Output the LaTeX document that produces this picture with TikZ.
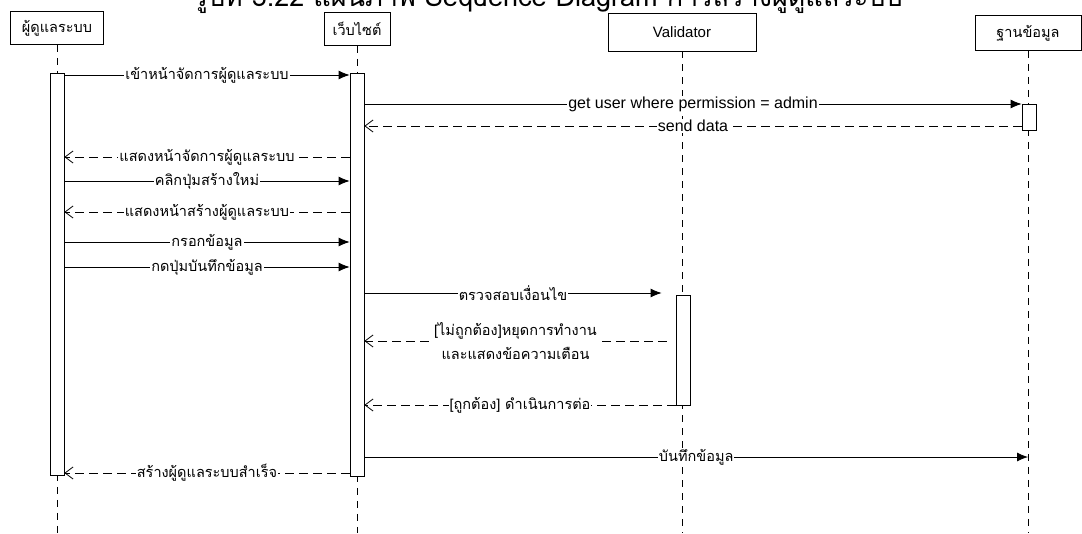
\documentclass[tikz,border=0pt]{standalone}
\usepackage{fontspec}
\setmainfont{Liberation Sans}
\newfontfamily\thaifont[Script=Thai]{Loma}
\usetikzlibrary{arrows.meta, positioning}

\tikzset{
    actor/.style={draw, line width=0.9pt, minimum height=33pt, inner sep=2pt, font=\thaifont\fontsize{14.5}{16}\selectfont},
    bar/.style={draw, line width=0.8pt, fill=white, minimum width=14pt, inner sep=0pt},
    life/.style={line width=0.7pt, dash pattern=on 7pt off 6pt},
    call/.style={line width=0.8pt, -{Latex[length=11pt, width=9pt]}},
    reply/.style={line width=0.8pt, dash pattern=on 9pt off 5pt, -{Straight Barb[length=8pt, width=12pt]}},
    msg/.style={fill=white, inner sep=1pt, font=\thaifont\fontsize{14.5}{16}\selectfont},
    msglat/.style={fill=white, inner sep=1pt, font=\fontsize{16}{18}\selectfont}
}

\begin{document}
\begin{tikzpicture}[x=1pt, y=-1pt]
                        \useasboundingbox (0,0) rectangle (1082,533);
                        % Title, cut off by the top of the page:
                        \node[anchor=base, inner sep=0pt, font=\thaifont\fontsize{27}{30}\selectfont] (title) at (548,6)
                            {รูปที่ 3.22 แผนภาพ Sequence Diagram การสร้างผู้ดูแลระบบ};

                        % Lifelines:
                        \node[actor, minimum width=93pt] (admin) at (57,28) {ผู้ดูแลระบบ};
                        \node[actor, minimum width=66pt] (web) at (357,29) {เว็บไซต์};
                        \node[actor, minimum width=148pt, minimum height=38pt, font=\fontsize{15}{17}\selectfont] (valid) at (682,32) {Validator};
                        \node[actor, minimum width=106pt, minimum height=35pt] (db) at (1028,33) {ฐานข้อมูล};
                        \coordinate (adminend) at (57,533);
                        \coordinate (webend) at (357,533);
                        \coordinate (validend) at (682,533);
                        \coordinate (dbend) at (1028,533);
                        \draw[life] (admin) -- (adminend);
                        \draw[life] (web) -- (webend);
                        \draw[life] (valid) -- (validend);
                        \draw[life] (db) -- (dbend);

                        % Activations:
                        \node[bar, minimum height=402pt, anchor=north] (adminbar) at (57,73) {};
                        \node[bar, minimum height=403pt, anchor=north] (webbar) at (357,73) {};
                        \node[bar, minimum height=26pt, anchor=north] (dbbar) at (1029,104) {};
                        \node[bar, minimum height=110pt, anchor=north] (validbar) at (683,295) {};

                        % Messages:
                        \draw[call] (adminbar.east |- 0,75) -- node[msg] (m1) {เข้าหน้าจัดการผู้ดูแลระบบ} (webbar.west |- 0,75);
                        \draw[call] (webbar.east |- 0,104) -- node[msglat] (m2) {get user where permission = admin} (dbbar.west |- 0,104);
                        \draw[reply] (dbbar.west |- 0,126) -- node[msglat] (m3) {send data} (webbar.east |- 0,126);
                        \draw[reply] (webbar.west |- 0,157) -- node[msg] (m4) {แสดงหน้าจัดการผู้ดูแลระบบ} (adminbar.east |- 0,157);
                        \draw[call] (adminbar.east |- 0,181) -- node[msg] (m5) {คลิกปุ่มสร้างใหม่} (webbar.west |- 0,181);
                        \draw[reply] (webbar.west |- 0,212) -- node[msg] (m6) {แสดงหน้าสร้างผู้ดูแลระบบ} (adminbar.east |- 0,212);
                        \draw[call] (adminbar.east |- 0,242) -- node[msg] (m7) {กรอกข้อมูล} (webbar.west |- 0,242);
                        \draw[call] (adminbar.east |- 0,267) -- node[msg] (m8) {กดปุ่มบันทึกข้อมูล} (webbar.west |- 0,267);
                        \draw[call] (webbar.east |- 0,293) -- node[msg] (m9) {ตรวจสอบเงื่อนไข} ([xshift=-14pt]validbar.west |- 0,293);
                        \draw[reply] ([xshift=-9pt]validbar.west |- 0,341) -- node[msg, align=center, inner sep=3pt, font=\thaifont\fontsize{14.5}{24}\selectfont] (m10)
                            {[ไม่ถูกต้อง]หยุดการทำงาน\\และแสดงข้อความเตือน} (webbar.east |- 0,341);
                        \draw[reply] (validbar.west |- 0,405) -- node[msg] (m11) {[ถูกต้อง] ดำเนินการต่อ} (webbar.east |- 0,405);
                        \draw[call] (webbar.east |- 0,457) -- node[msg] (m12) {บันทึกข้อมูล} (db.south |- 0,457);
                        \draw[reply] (webbar.west |- 0,473) -- node[msg] (m13) {สร้างผู้ดูแลระบบสำเร็จ} (adminbar.east |- 0,473);
                    \end{tikzpicture}
\end{document}
